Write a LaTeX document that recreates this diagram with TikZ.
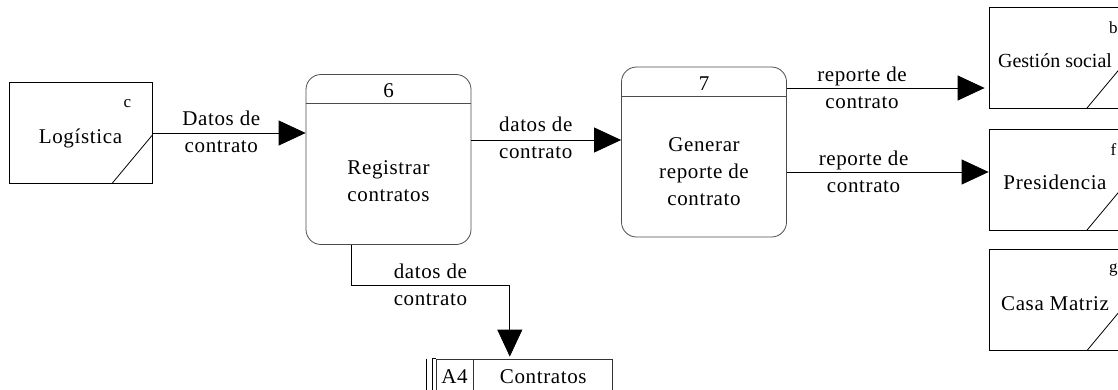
\documentclass[tikz,border=0pt]{standalone}
\usepackage{fontspec}
\setmainfont{Liberation Serif}[LetterSpace=3]
\newfontfamily\tightserif{Liberation Serif}
\usetikzlibrary{arrows.meta,positioning,calc}
\tikzset{
  entity/.style={draw,rectangle,minimum width=143,minimum height=101,inner sep=0pt,line width=0.8pt,
    text height=20pt,text depth=0pt,
    path picture={\draw[line width=0.8pt] ([xshift=-#1]path picture bounding box.south east) -- ([yshift=1.2*#1]path picture bounding box.south east);}},
  entity/.default=40,
  corner/.style={anchor=center,xshift=-#1,yshift=-21,font=\fontsize{17}{17}\selectfont},
  corner/.default=25,
  process/.style={draw=black!70,rectangle,rounded corners=15,minimum width=165,minimum height=170,inner sep=0pt,line width=0.8pt},
  num/.style={anchor=center,yshift=-17},
  store/.style={draw=black!80,rectangle,minimum width=37,minimum height=36,inner sep=0pt,line width=0.8pt},
  flow/.style={draw,-{Triangle[length=27pt,width=25pt]},line width=0.8pt},
  flows/.style={
    every edge/.style={flow},
    every node/.style={align=center}
  }
}
\begin{document}
\begin{tikzpicture}[x=1pt,y=-1pt,font=\fontsize{21}{27}\selectfont]
  \clip (0,0) rectangle (1118,389);

  \node[entity,label={[corner]north east:c}] (logistica) at (80.5,133) {Logística};
  \node[entity=34,minimum width=132,label={[corner=8]north east:b},font=\tightserif\fontsize{20}{27}\selectfont] (gestion) at (1055,57.5) {Gestión social};
  \node[entity=34,minimum width=132,label={[corner=8]north east:f}] (presidencia) at (1055,179.5) {Presidencia};
  \node[entity=34,minimum width=132,label={[corner=8]north east:g}] (casa) at (1055,300) {Casa Matriz};

  \node[process,label={[num]north:6}] (6) at (388.5,159.5) {};
  \node[process,label={[num]north:7}] (7) at (704,152) {};
  \draw[draw=black!70,line width=0.8pt] ([yshift=-29]6.north west) -- ([yshift=-29]6.north east);
  \draw[draw=black!70,line width=0.8pt] ([yshift=-30]7.north west) -- ([yshift=-30]7.north east);
  \node[align=center] (6text) at ([yshift=-22]6.center) {Registrar\\contratos};
  \node[align=center] (7text) at ([yshift=-20]7.center) {Generar\\reporte de\\contrato};

  \node[store] (A4) at (454.5,377) {A4};
  \node[store,minimum width=139] (contratos) [right=0pt of A4] {Contratos};
  \draw[line width=0.8pt] ([xshift=-3]A4.south west) |- (A4.north west);
  \draw[line width=0.8pt] ([xshift=-9]A4.north west) -- ([xshift=-9]A4.south west);

  \path[flows]
  (logistica.east) edge node[pos=.45,yshift=1] {Datos de\\contrato} (logistica.east -| 6.west)
  (6.east |- 0,140) edge node[pos=.43,yshift=2] {datos de\\contrato} (7.west |- 0,140)
  (7.east |- 0,88) edge node[pos=.38] {reporte de\\contrato} ([xshift=-4]gestion.west |- 0,88)
  (7.east |- 0,172) edge node[pos=.38] {reporte de\\contrato} (presidencia.west |- 0,172)
  ;
  \draw[flow,shorten >=2pt] ([xshift=-37.5]6.south) -- ++(0,40) -| node[pos=.25,align=center] {datos de\\contrato} ([xshift=-33.5]contratos.north);
\end{tikzpicture}
\end{document}
